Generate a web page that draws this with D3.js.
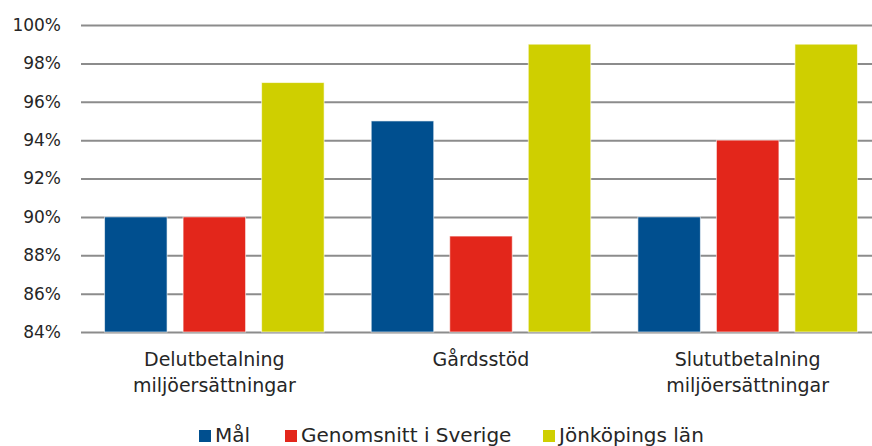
<!DOCTYPE html>
<html lang="sv">
<head>
<meta charset="UTF-8">
<title>Utbetalningar</title>
<script src="https://d3js.org/d3.v7.min.js"></script>
<style>
  body { margin: 0; background: #fff; }
  svg text { font-family: "DejaVu Sans", sans-serif; fill: #262626; }
</style>
</head>
<body>
<div id="chart"></div>
<script>
// data
const categories = [["Delutbetalning", "miljöersättningar"], ["Gårdsstöd"], ["Slututbetalning", "miljöersättningar"]];
const seriesNames = ["Mål", "Genomsnitt i Sverige", "Jönköpings län"];
const malValues = [90, 95, 90];
const sverigeValues = [90, 89, 94];
const jonkopingValues = [97, 99, 99];
const yTicks = [84, 86, 88, 90, 92, 94, 96, 98, 100];
const colors = ["#004f8f", "#e3261b", "#cfcf00"];

const series = [malValues, sverigeValues, jonkopingValues];

const width = 872, height = 446;
// plot area runs a little past the right edge (cropped in the original)
const margin = { top: 25, right: -9, bottom: 114, left: 81 };

const svg = d3.select("#chart").append("svg")
  .attr("width", width)
  .attr("height", height);

const x = d3.scaleBand()
  .domain(d3.range(categories.length))
  .range([margin.left, width - margin.right]);

const xInner = d3.scaleBand()
  .domain(d3.range(series.length))
  .range([0, x.bandwidth()])
  .paddingInner(0.204)
  .paddingOuter(0.30);

const y = d3.scaleLinear()
  .domain([84, 100])
  .range([height - margin.bottom, margin.top]);

// gridlines + y labels
const yAxis = svg.append("g")
  .attr("transform", `translate(${margin.left},0)`)
  .call(d3.axisLeft(y).tickValues(yTicks).tickSize(-(width - margin.left - margin.right))
    .tickPadding(20).tickFormat(d => d + "%"));
yAxis.select(".domain").remove();
yAxis.selectAll(".tick line").attr("stroke", "#8c8c8c").attr("stroke-width", 2);
yAxis.selectAll(".tick text").attr("font-size", 17).attr("fill", "#262626")
  .attr("font-family", "'DejaVu Sans', sans-serif");

// bars
const groups = svg.append("g").selectAll("g")
  .data(categories)
  .join("g")
  .attr("transform", (d, i) => `translate(${x(i)},0)`);

groups.selectAll("rect")
  .data((d, i) => series.map((s, j) => ({ j, v: s[i] })))
  .join("rect")
  .attr("x", d => xInner(d.j))
  .attr("width", xInner.bandwidth())
  .attr("y", d => y(d.v))
  .attr("height", d => y(84) - y(d.v))
  .attr("fill", d => colors[d.j])
  .attr("stroke", "#ffffff")
  .attr("stroke-opacity", 0.6)
  .attr("stroke-width", 1);

// category labels
groups.append("text")
  .attr("text-anchor", "middle")
  .attr("font-size", 19)
  .selectAll("tspan")
  .data(d => d)
  .join("tspan")
  .attr("x", x.bandwidth() / 2)
  .attr("y", (d, k) => 366 + k * 26)
  .text(d => d);

// legend
const legendX = [199, 285, 543];
const legend = svg.append("g").selectAll("g")
  .data(seriesNames)
  .join("g")
  .attr("transform", (d, i) => `translate(${legendX[i]},430)`);
legend.append("rect")
  .attr("width", 12).attr("height", 12)
  .attr("fill", (d, i) => colors[i]);
legend.append("text")
  .attr("x", 16).attr("y", 12)
  .attr("font-size", 20)
  .text(d => d);
</script>
</body>
</html>
